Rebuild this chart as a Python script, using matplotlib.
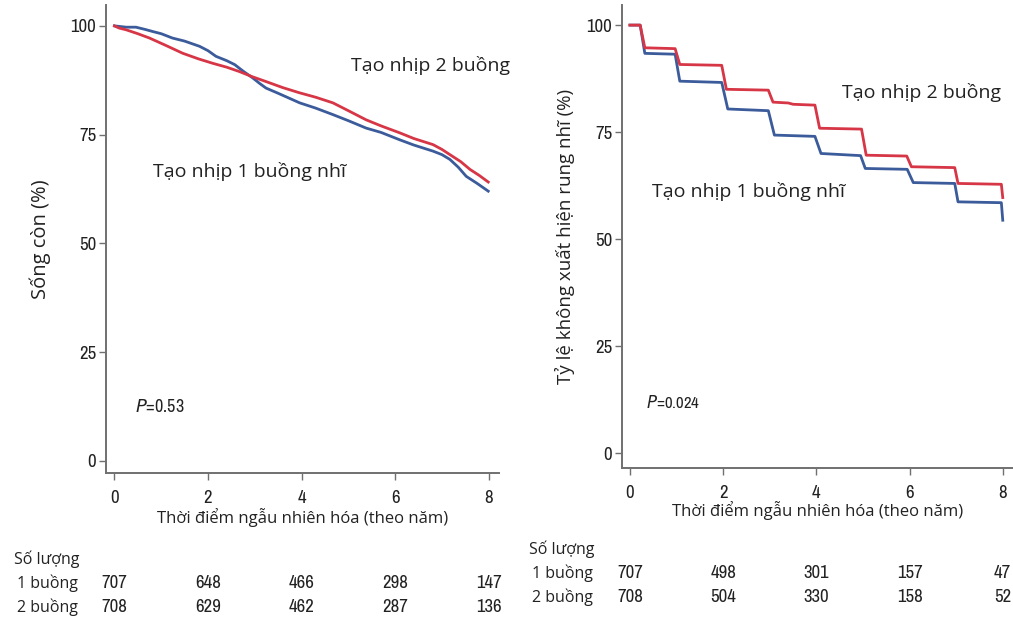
import matplotlib
matplotlib.use("Agg")
import matplotlib.pyplot as plt
from matplotlib import font_manager
from matplotlib.transforms import blended_transform_factory

# ---------------- data ----------------
# Left panel: overall survival
os_t_1 = [0, 0.25, 0.46, 0.65, 0.82, 1.0, 1.24, 1.5, 1.82, 2.0, 2.17, 2.4, 2.57, 2.75, 2.96, 3.1, 3.24,
          3.5, 3.96, 4.3, 4.67, 5.0, 5.38, 5.7, 6.1, 6.4, 6.81, 7.0, 7.17, 7.35, 7.52, 7.75, 7.99]
os_v_1 = [100, 99.7, 99.7, 99.2, 98.7, 98.2, 97.2, 96.5, 95.3, 94.3, 93.0, 92.0, 91.1, 89.6, 88.0, 86.8, 85.7,
          84.5, 82.3, 81.1, 79.6, 78.2, 76.5, 75.5, 73.8, 72.6, 71.2, 70.4, 69.3, 67.5, 65.4, 63.8, 62.0]
os_t_2 = [0, 0.1, 0.25, 0.5, 0.75, 1.1, 1.46, 1.8, 2.1, 2.4, 2.67, 2.95, 3.24, 3.6, 3.96, 4.3, 4.67,
          5.0, 5.38, 5.7, 6.1, 6.4, 6.81, 7.0, 7.17, 7.4, 7.6, 7.8, 7.99]
os_v_2 = [100, 99.5, 99.1, 98.2, 97.2, 95.5, 93.7, 92.4, 91.4, 90.5, 89.5, 88.3, 87.2, 85.8, 84.6, 83.6, 82.3,
          80.5, 78.4, 77.0, 75.4, 74.1, 72.7, 71.6, 70.4, 68.8, 67.0, 65.6, 64.1]

# Right panel: freedom from atrial fibrillation
af_t_1 = [0, 0.22, 0.32, 0.97, 1.07, 1.97, 2.1, 2.97, 3.1, 3.97, 4.1, 4.95, 5.05, 5.95, 6.08, 6.97, 7.04, 7.97, 8.0]
af_v_1 = [100, 100, 93.4, 93.2, 86.9, 86.6, 80.4, 80.0, 74.3, 74.0, 70.0, 69.5, 66.5, 66.3, 63.2, 63.0, 58.7, 58.5, 54.4]
af_t_2 = [0, 0.22, 0.32, 0.97, 1.07, 1.97, 2.07, 2.97, 3.07, 3.4, 3.5, 3.97, 4.07, 4.97, 5.07, 5.94, 6.04,
          6.97, 7.04, 7.97, 8.0]
af_v_2 = [100, 100, 94.7, 94.5, 90.8, 90.6, 85.0, 84.8, 82.0, 81.8, 81.5, 81.3, 75.9, 75.7, 69.6, 69.4, 66.9,
          66.7, 63.0, 62.8, 59.7]

risk_times = [0, 2, 4, 6, 8]
os_risk_1 = [707, 648, 466, 298, 147]
os_risk_2 = [708, 629, 462, 287, 136]
af_risk_1 = [707, 498, 301, 157, 47]
af_risk_2 = [708, 504, 330, 158, 52]

x_ticks = [0, 2, 4, 6, 8]
y_ticks = [0, 25, 50, 75, 100]

# ---------------- fonts ----------------
avail = {f.name for f in font_manager.fontManager.ttflist}
NARROW_KW = {"family": "DejaVu Sans", "stretch": "condensed"}
for cand in ["Arial Narrow", "Liberation Sans Narrow", "Archivo Narrow", "Roboto Condensed", "PT Sans Narrow",
             "Pragati Narrow"]:
    if cand in avail:
        NARROW_KW = {"family": cand, "stretch": "normal"}
        break
label_font = "Open Sans" if "Open Sans" in avail else "DejaVu Sans"
plt.rcParams["font.family"] = [label_font, "DejaVu Sans"]

RED = "#d63645"
BLUE = "#3b5b9b"
SPINE = "#707070"
TXT = "#222222"

W, H = 1013, 619
fig = plt.figure(figsize=(W / 100, H / 100), dpi=100)


def make_axes(px_left, px_right, px_top, px_bottom):
    return fig.add_axes([px_left / W, 1 - px_bottom / H, (px_right - px_left) / W, (px_bottom - px_top) / H])


def narrow_text(ax, x, y, s, size, **kw):
    return ax.text(x, y, s, fontsize=size, family=NARROW_KW["family"], fontstretch=NARROW_KW["stretch"],
                   color=TXT, **kw)


def style(ax, xlim, ylim):
    ax.set_xlim(*xlim)
    ax.set_ylim(*ylim)
    for s in ("top", "right"):
        ax.spines[s].set_visible(False)
    for s in ("left", "bottom"):
        ax.spines[s].set_color(SPINE)
        ax.spines[s].set_linewidth(1.4)
    ax.set_xticks(x_ticks)
    ax.set_yticks(y_ticks)
    ax.tick_params(axis="both", colors=SPINE, length=5, width=1.0, labelcolor=TXT)
    for lab in ax.get_xticklabels() + ax.get_yticklabels():
        lab.set_fontfamily(NARROW_KW["family"])
        lab.set_fontstretch(NARROW_KW["stretch"])
        lab.set_fontsize(13.5)
    ax.tick_params(axis="x", pad=7)
    ax.tick_params(axis="y", pad=2)


# ---- left panel ----
axL = make_axes(106, 499, 5, 473)
style(axL, (-0.18, 8.22), (-2.8, 104.8))
axL.plot(os_t_1, os_v_1, color=BLUE, lw=2.0)
axL.plot(os_t_2, os_v_2, color=RED, lw=2.0)
axL.text(5.06, 90.9, "Tạo nhịp 2 buồng", fontsize=14, va="center", ha="left", color=TXT)
axL.text(0.82, 66.5, "Tạo nhịp 1 buồng nhĩ", fontsize=14, va="center", ha="left", color=TXT)
narrow_text(axL, 0.45, 12.5, "$\\mathit{P}$=0.53", 13, va="center", ha="left")
axL.set_ylabel("Sống còn (%)", fontsize=14.5, labelpad=14, color=TXT)
axL.set_xlabel("Thời điểm ngẫu nhiên hóa (theo năm)", fontsize=12, labelpad=2, color=TXT)

# ---- right panel ----
axR = make_axes(622, 1013, 5, 468)
style(axR, (-0.17, 8.22), (-3.5, 104.7))
axR.plot(af_t_1, af_v_1, color=BLUE, lw=2.0)
axR.plot(af_t_2, af_v_2, color=RED, lw=2.0)
axR.text(4.55, 84.3, "Tạo nhịp 2 buồng", fontsize=14, va="center", ha="left", color=TXT)
axR.text(0.47, 61.2, "Tạo nhịp 1 buồng nhĩ", fontsize=14, va="center", ha="left", color=TXT)
narrow_text(axR, 0.35, 11.9, "$\\mathit{P}$=0.024", 12, va="center", ha="left")
axR.set_ylabel("Tỷ lệ không xuất hiện rung nhĩ (%)", fontsize=13.5, labelpad=8, color=TXT)
axR.set_xlabel("Thời điểm ngẫu nhiên hóa (theo năm)", fontsize=12, labelpad=0, color=TXT)


# ---- risk tables ----
def risk_table(ax, r1, r2, head_y, y1, y2, label_x):
    tr = blended_transform_factory(ax.transData, fig.transFigure)
    fig.text(label_x / W, 1 - head_y / H, "Số lượng", fontsize=11.5, ha="center", va="center", color=TXT)
    fig.text(label_x / W, 1 - y1 / H, "1 buồng", fontsize=11.5, ha="center", va="center", color=TXT)
    fig.text(label_x / W, 1 - y2 / H, "2 buồng", fontsize=11.5, ha="center", va="center", color=TXT)
    for t, a, b in zip(risk_times, r1, r2):
        narrow_text(ax, t, 1 - y1 / H, str(a), 13.5, transform=tr, ha="center", va="center", clip_on=False)
        narrow_text(ax, t, 1 - y2 / H, str(b), 13.5, transform=tr, ha="center", va="center", clip_on=False)


risk_table(axL, os_risk_1, os_risk_2, 559, 583, 607, 47)
risk_table(axR, af_risk_1, af_risk_2, 549, 573, 597, 562)

fig.savefig("out.png", dpi=100, facecolor="white")
